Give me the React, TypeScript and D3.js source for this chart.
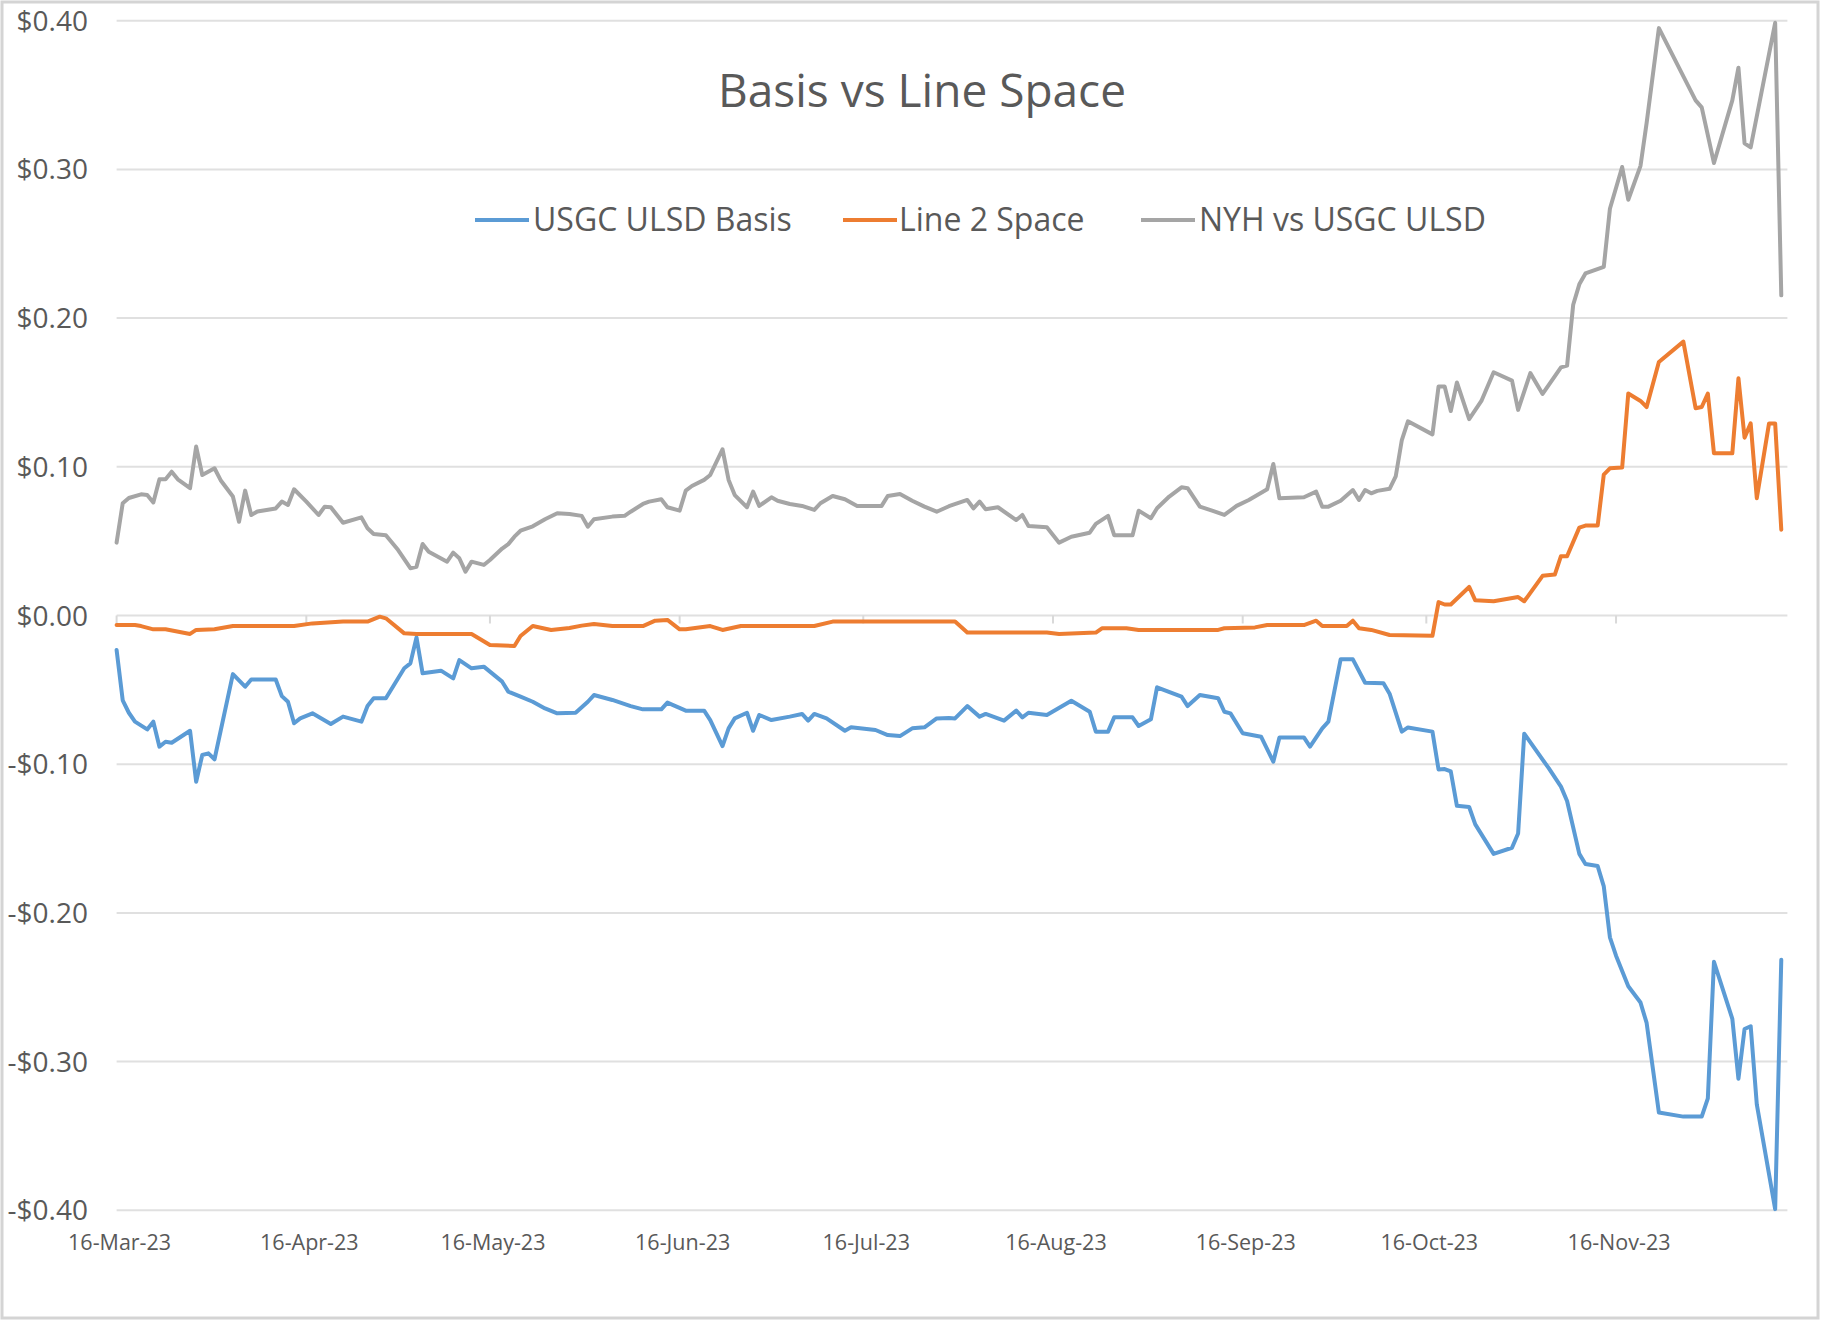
import React from "react";
import * as d3 from "d3";

// ---------- DATA ----------
const basisDates = [
  "2023-03-16","2023-03-17","2023-03-18","2023-03-19","2023-03-21","2023-03-22","2023-03-23","2023-03-24","2023-03-25","2023-03-28",
  "2023-03-29","2023-03-30","2023-03-31","2023-04-01","2023-04-04","2023-04-06","2023-04-07","2023-04-11","2023-04-12","2023-04-13",
  "2023-04-14","2023-04-15","2023-04-17","2023-04-20","2023-04-22","2023-04-25","2023-04-26","2023-04-27","2023-04-29","2023-05-02",
  "2023-05-03","2023-05-04","2023-05-05","2023-05-08","2023-05-10","2023-05-11","2023-05-13","2023-05-15","2023-05-18","2023-05-19",
  "2023-05-21","2023-05-23","2023-05-25","2023-05-27","2023-05-30","2023-06-01","2023-06-02","2023-06-05","2023-06-08","2023-06-10",
  "2023-06-13","2023-06-14","2023-06-17","2023-06-20","2023-06-21","2023-06-23","2023-06-24","2023-06-25","2023-06-27","2023-06-28",
  "2023-06-29","2023-07-01","2023-07-04","2023-07-06","2023-07-07","2023-07-08","2023-07-10","2023-07-13","2023-07-14","2023-07-18",
  "2023-07-20","2023-07-22","2023-07-24","2023-07-26","2023-07-28","2023-07-30","2023-07-31","2023-08-02","2023-08-04","2023-08-05",
  "2023-08-08","2023-08-10","2023-08-11","2023-08-12","2023-08-15","2023-08-19","2023-08-22","2023-08-23","2023-08-25","2023-08-26",
  "2023-08-29","2023-08-30","2023-09-01","2023-09-02","2023-09-06","2023-09-07","2023-09-09","2023-09-12","2023-09-13","2023-09-14",
  "2023-09-16","2023-09-19","2023-09-21","2023-09-22","2023-09-26","2023-09-27","2023-09-29","2023-09-30","2023-10-02","2023-10-04",
  "2023-10-06","2023-10-09","2023-10-10","2023-10-12","2023-10-13","2023-10-17","2023-10-18","2023-10-19","2023-10-20","2023-10-21",
  "2023-10-23","2023-10-24","2023-10-27","2023-10-30","2023-10-31","2023-11-01","2023-11-05","2023-11-07","2023-11-08","2023-11-10",
  "2023-11-11","2023-11-13","2023-11-14","2023-11-15","2023-11-16","2023-11-18","2023-11-20","2023-11-21","2023-11-23","2023-11-27",
  "2023-11-30","2023-12-01","2023-12-02","2023-12-05","2023-12-06","2023-12-07","2023-12-08","2023-12-09","2023-12-12","2023-12-13",
];
const basisValues = [
  -0.0232,-0.057,-0.0654,-0.0714,-0.0766,-0.0714,-0.0882,-0.0849,-0.0856,-0.0775,
  -0.1118,-0.0938,-0.0927,-0.0967,-0.0394,-0.0479,-0.043,-0.043,-0.0542,-0.058,
  -0.0725,-0.0692,-0.0658,-0.073,-0.068,-0.0714,-0.0609,-0.0557,-0.0557,-0.0355,
  -0.0322,-0.0147,-0.0389,-0.0371,-0.0423,-0.03,-0.0355,-0.0344,-0.0445,-0.0512,
  -0.0546,-0.058,-0.0625,-0.0658,-0.0654,-0.058,-0.0535,-0.0568,-0.0609,-0.0631,
  -0.0631,-0.0586,-0.064,-0.064,-0.0703,-0.0878,-0.0759,-0.0692,-0.0654,-0.0775,
  -0.0669,-0.0703,-0.068,-0.0662,-0.0707,-0.0662,-0.0692,-0.0775,-0.0752,-0.077,
  -0.0804,-0.0811,-0.0759,-0.0752,-0.0692,-0.069,-0.0692,-0.0609,-0.068,-0.0662,
  -0.0707,-0.064,-0.0685,-0.0654,-0.0669,-0.0573,-0.0647,-0.0781,-0.0781,-0.0685,
  -0.0685,-0.0743,-0.0698,-0.0483,-0.0546,-0.0609,-0.0535,-0.0557,-0.0647,-0.0658,
  -0.0792,-0.0815,-0.0983,-0.082,-0.082,-0.0882,-0.0759,-0.0714,-0.0295,-0.0295,
  -0.0452,-0.0456,-0.0526,-0.0781,-0.0753,-0.0781,-0.1036,-0.1033,-0.1049,-0.128,
  -0.1288,-0.1405,-0.1603,-0.1562,-0.1466,-0.0795,-0.1027,-0.1151,-0.1247,-0.1603,
  -0.1671,-0.1685,-0.1822,-0.2164,-0.2288,-0.2493,-0.2603,-0.274,-0.3342,-0.337,
  -0.337,-0.3247,-0.2329,-0.2712,-0.3115,-0.2781,-0.2762,-0.3288,-0.3992,-0.2315,
];

const line2Dates = [
  "2023-03-16","2023-03-19","2023-03-20","2023-03-22","2023-03-24","2023-03-28","2023-03-29","2023-04-01","2023-04-04","2023-04-14",
  "2023-04-17","2023-04-22","2023-04-26","2023-04-28","2023-04-29","2023-05-02","2023-05-04","2023-05-13","2023-05-16","2023-05-20",
  "2023-05-21","2023-05-23","2023-05-26","2023-05-29","2023-05-31","2023-06-02","2023-06-05","2023-06-10","2023-06-12","2023-06-14",
  "2023-06-16","2023-06-17","2023-06-21","2023-06-23","2023-06-26","2023-07-08","2023-07-11","2023-07-31","2023-08-02","2023-08-15",
  "2023-08-17","2023-08-23","2023-08-24","2023-08-28","2023-08-30","2023-09-12","2023-09-13","2023-09-18","2023-09-20","2023-09-26",
  "2023-09-28","2023-09-29","2023-10-03","2023-10-04","2023-10-05","2023-10-07","2023-10-10","2023-10-17","2023-10-18","2023-10-19",
  "2023-10-20","2023-10-23","2023-10-24","2023-10-27","2023-10-31","2023-11-01","2023-11-04","2023-11-06","2023-11-07","2023-11-08",
  "2023-11-10","2023-11-11","2023-11-13","2023-11-14","2023-11-15","2023-11-17","2023-11-18","2023-11-20","2023-11-21","2023-11-23",
  "2023-11-27","2023-11-29","2023-11-30","2023-12-01","2023-12-02","2023-12-05","2023-12-06","2023-12-07","2023-12-08","2023-12-09",
  "2023-12-11","2023-12-12","2023-12-13",
];
const line2Values = [
  -0.0064,-0.0064,-0.0071,-0.0093,-0.0093,-0.0124,-0.0097,-0.0093,-0.0071,-0.0071,
  -0.0053,-0.0041,-0.0041,-0.0008,-0.0019,-0.012,-0.0124,-0.0124,-0.0198,-0.0205,
  -0.0138,-0.0071,-0.0097,-0.0084,-0.0068,-0.0057,-0.0071,-0.0071,-0.0035,-0.003,
  -0.0093,-0.0093,-0.0071,-0.0097,-0.0071,-0.0071,-0.0041,-0.0041,-0.0115,-0.0115,
  -0.0124,-0.0115,-0.0086,-0.0086,-0.0097,-0.0097,-0.0086,-0.008,-0.0064,-0.0064,
  -0.0035,-0.0071,-0.0071,-0.0035,-0.0086,-0.0097,-0.0131,-0.0137,0.009,0.0074,
  0.0074,0.0192,0.0102,0.0096,0.0124,0.0096,0.0267,0.0275,0.0399,0.0399,
  0.0591,0.0605,0.0605,0.0948,0.099,0.0995,0.1493,0.1443,0.1402,0.1705,
  0.1842,0.1394,0.1402,0.1493,0.1091,0.1091,0.1595,0.1196,0.1292,0.0789,
  0.1292,0.1292,0.0577,
];

const nyhDates = [
  "2023-03-16","2023-03-17","2023-03-18","2023-03-20","2023-03-21","2023-03-22","2023-03-23","2023-03-24","2023-03-25","2023-03-26",
  "2023-03-28","2023-03-29","2023-03-30","2023-04-01","2023-04-02","2023-04-04","2023-04-05","2023-04-06","2023-04-07","2023-04-08",
  "2023-04-11","2023-04-12","2023-04-13","2023-04-14","2023-04-16","2023-04-18","2023-04-19","2023-04-20","2023-04-22","2023-04-25",
  "2023-04-26","2023-04-27","2023-04-29","2023-05-01","2023-05-03","2023-05-04","2023-05-05","2023-05-06","2023-05-09","2023-05-10",
  "2023-05-11","2023-05-12","2023-05-13","2023-05-15","2023-05-16","2023-05-18","2023-05-19","2023-05-20","2023-05-21","2023-05-23",
  "2023-05-25","2023-05-27","2023-05-29","2023-05-31","2023-06-01","2023-06-02","2023-06-05","2023-06-07","2023-06-08","2023-06-10",
  "2023-06-11","2023-06-13","2023-06-14","2023-06-16","2023-06-17","2023-06-18","2023-06-20","2023-06-21","2023-06-23","2023-06-24",
  "2023-06-25","2023-06-27","2023-06-28","2023-06-29","2023-07-01","2023-07-02","2023-07-04","2023-07-06","2023-07-08","2023-07-09",
  "2023-07-11","2023-07-13","2023-07-15","2023-07-19","2023-07-20","2023-07-22","2023-07-24","2023-07-26","2023-07-28","2023-07-30",
  "2023-08-02","2023-08-03","2023-08-04","2023-08-05","2023-08-07","2023-08-10","2023-08-11","2023-08-12","2023-08-15","2023-08-17",
  "2023-08-19","2023-08-22","2023-08-23","2023-08-25","2023-08-26","2023-08-29","2023-08-30","2023-09-01","2023-09-02","2023-09-04",
  "2023-09-06","2023-09-07","2023-09-09","2023-09-11","2023-09-13","2023-09-15","2023-09-17","2023-09-20","2023-09-21","2023-09-22",
  "2023-09-26","2023-09-28","2023-09-29","2023-09-30","2023-10-02","2023-10-04","2023-10-05","2023-10-06","2023-10-07","2023-10-08",
  "2023-10-10","2023-10-11","2023-10-12","2023-10-13","2023-10-17","2023-10-18","2023-10-19","2023-10-20","2023-10-21","2023-10-23",
  "2023-10-25","2023-10-27","2023-10-30","2023-10-31","2023-11-02","2023-11-04","2023-11-07","2023-11-08","2023-11-09","2023-11-10",
  "2023-11-11","2023-11-14","2023-11-15","2023-11-17","2023-11-18","2023-11-20","2023-11-21","2023-11-23","2023-11-29","2023-11-30",
  "2023-12-02","2023-12-05","2023-12-06","2023-12-07","2023-12-08","2023-12-12","2023-12-13",
];
const nyhValues = [
  0.049,0.0755,0.079,0.0815,0.081,0.076,0.0916,0.0916,0.0967,0.0916,
  0.0856,0.1136,0.0945,0.099,0.091,0.08,0.063,0.084,0.0676,0.07,
  0.072,0.0766,0.0743,0.0849,0.0766,0.0676,0.0732,0.0728,0.0624,0.066,
  0.0587,0.0548,0.054,0.044,0.0318,0.0328,0.0481,0.0429,0.0362,0.0423,
  0.0385,0.0295,0.0362,0.034,0.0373,0.045,0.048,0.053,0.057,0.06,
  0.0647,0.0688,0.0683,0.067,0.0597,0.0647,0.0665,0.067,0.0698,0.075,
  0.0766,0.0782,0.0728,0.0705,0.084,0.0871,0.0912,0.0945,0.1118,0.0912,
  0.081,0.0728,0.0833,0.0737,0.0795,0.0772,0.075,0.0737,0.071,0.0755,
  0.0804,0.0782,0.0737,0.0737,0.0804,0.0817,0.0772,0.0732,0.0698,0.0735,
  0.0777,0.0721,0.0766,0.0714,0.0728,0.0642,0.0676,0.0602,0.0593,0.049,
  0.053,0.0557,0.0616,0.067,0.054,0.054,0.0705,0.0654,0.0721,0.08,
  0.0862,0.0856,0.0732,0.0705,0.0676,0.0737,0.0777,0.0849,0.1019,0.0788,
  0.0795,0.0833,0.0732,0.0732,0.0772,0.0844,0.0777,0.0844,0.0822,0.0838,
  0.0852,0.0935,0.118,0.1306,0.1218,0.154,0.154,0.1375,0.1567,0.132,
  0.1443,0.1636,0.158,0.1383,0.163,0.149,0.1669,0.168,0.209,0.2227,
  0.23,0.2345,0.2735,0.3016,0.2796,0.3024,0.3313,0.395,0.3464,0.3417,
  0.3043,0.3464,0.3684,0.3175,0.3148,0.3986,0.2153,
];

const seriesNames = ["USGC ULSD Basis", "Line 2 Space", "NYH vs USGC ULSD"];
const seriesColors = ["#5B9BD5", "#ED7D31", "#A5A5A5"];
const yTickValues = [0.4, 0.3, 0.2, 0.1, 0.0, -0.1, -0.2, -0.3, -0.4];
const xTickDates = [
  "2023-03-16","2023-04-16","2023-05-16","2023-06-16","2023-07-16",
  "2023-08-16","2023-09-16","2023-10-16","2023-11-16",
];
const xDomainDates = ["2023-03-16", "2023-12-14"];
const chartTitle = "Basis vs Line Space";

// ---------- CHART ----------
const FONT = "'Open Sans', 'Noto Sans', sans-serif";
const TEXT = "#595959";

export default function App() {
  const W = 1822;
  const H = 1322;
  const parse = d3.utcParse("%Y-%m-%d");
  const fmtX = d3.utcFormat("%d-%b-%y");
  const fmtY = (v: number) =>
    (v < -1e-9 ? "-" : "") + "$" + Math.abs(v).toFixed(2);

  const x = d3
    .scaleUtc()
    .domain(xDomainDates.map((s) => parse(s) as Date))
    .range([116.6, 1787.4]);
  const y = d3.scaleLinear().domain([-0.4, 0.4]).range([1210.3, 20.7]);

  const mk = (dates: string[], vals: number[]) =>
    dates.map((d, i) => [parse(d) as Date, vals[i]] as [Date, number]);
  const series = [
    mk(basisDates, basisValues),
    mk(line2Dates, line2Values),
    mk(nyhDates, nyhValues),
  ];
  const line = d3
    .line<[Date, number]>()
    .x((d) => x(d[0]))
    .y((d) => y(d[1]));

  const [x0, x1] = x.range();

  const legendItems = [
    { lx: 475, tx: 533 },
    { lx: 843, tx: 899 },
    { lx: 1141, tx: 1199 },
  ];

  return (
    <div style={{ position: "absolute", left: 0, top: 0 }}>
      <svg width={W} height={H} style={{ display: "block", background: "#fff" }}>
        <rect x={0} y={0} width={W} height={H} fill="#ffffff" />
        <rect
          x={2}
          y={2}
          width={1816}
          height={1316}
          fill="none"
          stroke="#d4d4d4"
          strokeWidth={3}
        />
        {/* gridlines */}
        {yTickValues.map((v) => (
          <line
            key={"g" + v}
            x1={x0}
            x2={x1}
            y1={y(v)}
            y2={y(v)}
            stroke="#e0e0e0"
            strokeWidth={2}
          />
        ))}
        {/* x-axis tick marks at zero line */}
        {xTickDates.map((s) => {
          const xx = x(parse(s) as Date);
          return (
            <line
              key={"t" + s}
              x1={xx}
              x2={xx}
              y1={y(0)}
              y2={y(0) + 8}
              stroke="#d9d9d9"
              strokeWidth={2}
            />
          );
        })}
        {/* y labels */}
        {yTickValues.map((v) => (
          <text
            key={"yl" + v}
            x={88}
            y={y(v)}
            dy="0.36em"
            textAnchor="end"
            fontFamily={FONT}
            fontSize={28}
            fill={TEXT}
          >
            {fmtY(v)}
          </text>
        ))}
        {/* x labels */}
        {xTickDates.map((s) => {
          const dt = parse(s) as Date;
          return (
            <text
              key={"xl" + s}
              x={x(dt) + 3}
              y={1250}
              textAnchor="middle"
              fontFamily={FONT}
              fontSize={21.5}
              fill={TEXT}
            >
              {fmtX(dt)}
            </text>
          );
        })}
        {/* series */}
        {series.map((data, i) => (
          <path
            key={"s" + i}
            d={line(data) || ""}
            fill="none"
            stroke={seriesColors[i]}
            strokeWidth={4}
            strokeLinejoin="round"
            strokeLinecap="round"
          />
        ))}
        {/* title */}
        <text
          x={922}
          y={107}
          textAnchor="middle"
          fontFamily={FONT}
          fontSize={46}
          fill={TEXT}
        >
          {chartTitle}
        </text>
        {/* legend */}
        {seriesNames.map((name, i) => (
          <g key={"lg" + i}>
            <line
              x1={legendItems[i].lx}
              x2={legendItems[i].lx + 54}
              y1={220}
              y2={220}
              stroke={seriesColors[i]}
              strokeWidth={4}
            />
            <text
              x={legendItems[i].tx}
              y={231}
              fontFamily={FONT}
              fontSize={32}
              fill={TEXT}
            >
              {name}
            </text>
          </g>
        ))}
      </svg>
    </div>
  );
}
